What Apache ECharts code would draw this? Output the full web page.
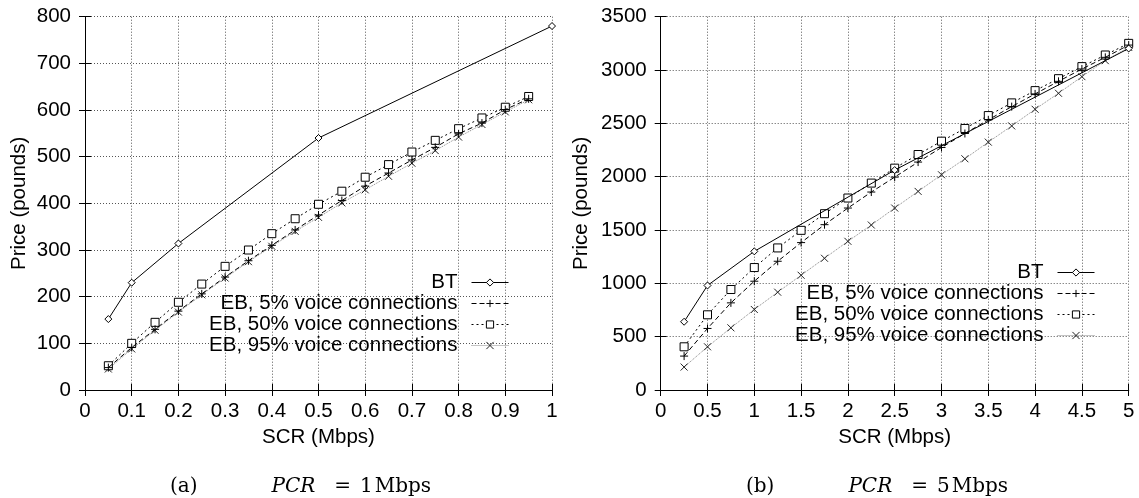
<!DOCTYPE html>
<html>
<head>
<meta charset="utf-8">
<script src="https://cdn.jsdelivr.net/npm/echarts@6/dist/echarts.min.js"></script>
<style>
  html, body { margin: 0; padding: 0; background: #fff; }
  #chart { width: 1139px; height: 498px; }
</style>
</head>
<body>
<div id="chart"></div>
<script>
// (a) PCR = 1 Mbps
const btScrA = [0.05, 0.1, 0.2, 0.5, 1];
const btPriceA = [152, 230, 314, 540, 780];
const ebScrA = [0.05, 0.1, 0.15, 0.2, 0.25, 0.3, 0.35, 0.4, 0.45, 0.5,
  0.55, 0.6, 0.65, 0.7, 0.75, 0.8, 0.85, 0.9, 0.95];
const eb5A = [48, 91, 130, 169, 206, 242, 277, 310, 343, 375,
  406, 437, 465, 493, 520, 549, 572, 601, 624];
const eb50A = [52, 100, 145, 188, 227, 265, 300, 335, 367, 398,
  426, 456, 483, 510, 535, 560, 583, 606, 629];
const eb95A = [45, 88, 128, 167, 204, 240, 275, 308, 340, 370,
  401, 429, 458, 486, 513, 542, 569, 596, 622];

// (b) PCR = 5 Mbps
const btScrB = [0.25, 0.5, 1, 2.5, 5];
const btPriceB = [640, 980, 1300, 2062, 3202];
const ebScrB = [0.25, 0.5, 0.75, 1, 1.25, 1.5, 1.75, 2, 2.25, 2.5,
  2.75, 3, 3.25, 3.5, 3.75, 4, 4.25, 4.5, 4.75, 5];
const eb5B = [318, 577, 817, 1020, 1207, 1382, 1550, 1706, 1856, 1996,
  2137, 2274, 2405, 2533, 2657, 2776, 2894, 3010, 3119, 3234];
const eb50B = [405, 705, 942, 1148, 1332, 1497, 1653, 1800, 1940, 2080,
  2208, 2333, 2452, 2573, 2692, 2807, 2919, 3032, 3141, 3250];
const eb95B = [215, 405, 583, 755, 917, 1076, 1235, 1394, 1547, 1706,
  1862, 2018, 2168, 2324, 2476, 2632, 2782, 2938, 3088, 3212];

const names = ['BT', 'EB, 5% voice connections', 'EB, 50% voice connections', 'EB, 95% voice connections'];
const captions = [
  '{a|(a)}{i|PCR}{e|=}{o|1}{m|Mbps}',
  '{a|(b)}{i|PCR}{e|=}{o|5}{m|Mbps}',
];

const FONT = 'Liberation Sans';
const SERIF = 'DejaVu Serif';
const zip = (xs, ys) => xs.map((x, i) => [x, ys[i]]);

const plusPath = 'path://M0,5L10,5M5,0L5,10';
const crossPath = 'path://M0,0L10,10M10,0L0,10';
const diamondPath = 'path://M5,0L10,5L5,10L0,5Z';
const squarePath = 'path://M0,0L10,0L10,10L0,10Z';

const styles = [
  { symbol: diamondPath, symbolSize: 7, line: { color: '#000', width: 1, type: 'solid' }, stroke: '#000' },
  { symbol: plusPath, symbolSize: 8, line: { color: '#000', width: 1, type: [5, 3] }, stroke: '#000' },
  { symbol: squarePath, symbolSize: 8, line: { color: '#000', width: 1, type: [2, 3] }, stroke: '#000' },
  { symbol: crossPath, symbolSize: 7, line: { color: '#888', width: 1, type: [1, 1] }, stroke: '#222' },
];

function makeSeries(gridIdx, sets) {
  return sets.map((d, i) => ({
    name: names[i],
    type: 'line',
    xAxisIndex: gridIdx * 2,
    yAxisIndex: gridIdx * 2,
    data: d,
    symbol: styles[i].symbol,
    symbolSize: styles[i].symbolSize,
    showAllSymbol: true,
    lineStyle: styles[i].line,
    itemStyle: { color: '#fff', borderColor: styles[i].stroke, borderWidth: 1 },
    emphasis: { disabled: true },
    animation: false,
    z: 10 - i,
  }));
}

const grids = [
  { left: 85, top: 16.7, width: 467, height: 373.3 },
  { left: 660.7, top: 16.7, width: 468, height: 373.3 },
];

const tickStyle = { inside: true, length: 6, lineStyle: { color: '#000', width: 1 } };
const lineStyle = { show: true, lineStyle: { color: '#000', width: 1 } };
const splitStyle = { show: true, lineStyle: { color: '#555', width: 1, type: [1, 2] } };
const labelStyle = { color: '#000', fontFamily: FONT, fontSize: 20.5, formatter: v => String(v) };

function xAxes(gi, max, step) {
  return [
    {
      type: 'value', gridIndex: gi, min: 0, max: max, interval: step, position: 'bottom',
      name: 'SCR (Mbps)', nameLocation: 'middle', nameGap: 31,
      nameTextStyle: { color: '#000', fontFamily: FONT, fontSize: 20.5 },
      axisLine: lineStyle, axisTick: tickStyle, splitLine: splitStyle,
      axisLabel: Object.assign({ margin: 11 }, labelStyle),
    },
    {
      type: 'value', gridIndex: gi, min: 0, max: max, interval: step, position: 'top',
      axisLine: lineStyle, axisTick: tickStyle, splitLine: { show: false },
      axisLabel: { show: false },
    },
  ];
}

function yAxes(gi, max, step, gap) {
  return [
    {
      type: 'value', gridIndex: gi, min: 0, max: max, interval: step, position: 'left',
      name: 'Price (pounds)', nameLocation: 'middle', nameGap: gap,
      nameTextStyle: { color: '#000', fontFamily: FONT, fontSize: 20.5 },
      axisLine: lineStyle, axisTick: tickStyle, splitLine: splitStyle,
      axisLabel: Object.assign({ margin: 14 }, labelStyle),
    },
    {
      type: 'value', gridIndex: gi, min: 0, max: max, interval: step, position: 'right',
      axisLine: lineStyle, axisTick: tickStyle, splitLine: { show: false },
      axisLabel: { show: false },
    },
  ];
}

function makeLegend(right, top) {
  return {
    orient: 'vertical', align: 'right', right: right, top: top, padding: 0,
    itemWidth: 37, itemHeight: 9, itemGap: 0,
    data: names, selectedMode: false,
    lineStyle: { width: 1 },
    itemStyle: { borderWidth: 1 },
    textStyle: { color: '#000', fontFamily: FONT, fontSize: 20.5, lineHeight: 21, padding: [0, 9, 0, 0] },
  };
}

function makeCaption(text, center) {
  const base = { fontFamily: SERIF, fontSize: 20, color: '#000' };
  return {
    text: text, left: center, top: 477, textAlign: 'center', padding: 0,
    textStyle: {
      color: '#000', fontFamily: SERIF, fontSize: 20, fontWeight: 'normal', lineHeight: 20,
      rich: {
        a: Object.assign({ padding: [0, 74, 0, 0] }, base),
        i: Object.assign({ padding: [0, 19, 0, 0], fontStyle: 'italic' }, base),
        e: Object.assign({ padding: [0, 9, 0, 0] }, base),
        o: Object.assign({ padding: [0, 2, 0, 0] }, base),
        m: base,
      },
    },
  };
}

const chart = echarts.init(document.getElementById('chart'), null, { renderer: 'canvas' });
chart.setOption({
  backgroundColor: '#fff',
  animation: false,
  title: [makeCaption(captions[0], 300.5), makeCaption(captions[1], 877)],
  legend: [makeLegend(1139 - 509, 272), makeLegend(1139 - 1095, 262)],
  grid: grids,
  xAxis: xAxes(0, 1, 0.1).concat(xAxes(1, 5, 0.5)),
  yAxis: yAxes(0, 800, 100, 55).concat(yAxes(1, 3500, 500, 69)),
  series: makeSeries(0, [zip(btScrA, btPriceA), zip(ebScrA, eb5A), zip(ebScrA, eb50A), zip(ebScrA, eb95A)])
    .concat(makeSeries(1, [zip(btScrB, btPriceB), zip(ebScrB, eb5B), zip(ebScrB, eb50B), zip(ebScrB, eb95B)])),
});
</script>
</body>
</html>
